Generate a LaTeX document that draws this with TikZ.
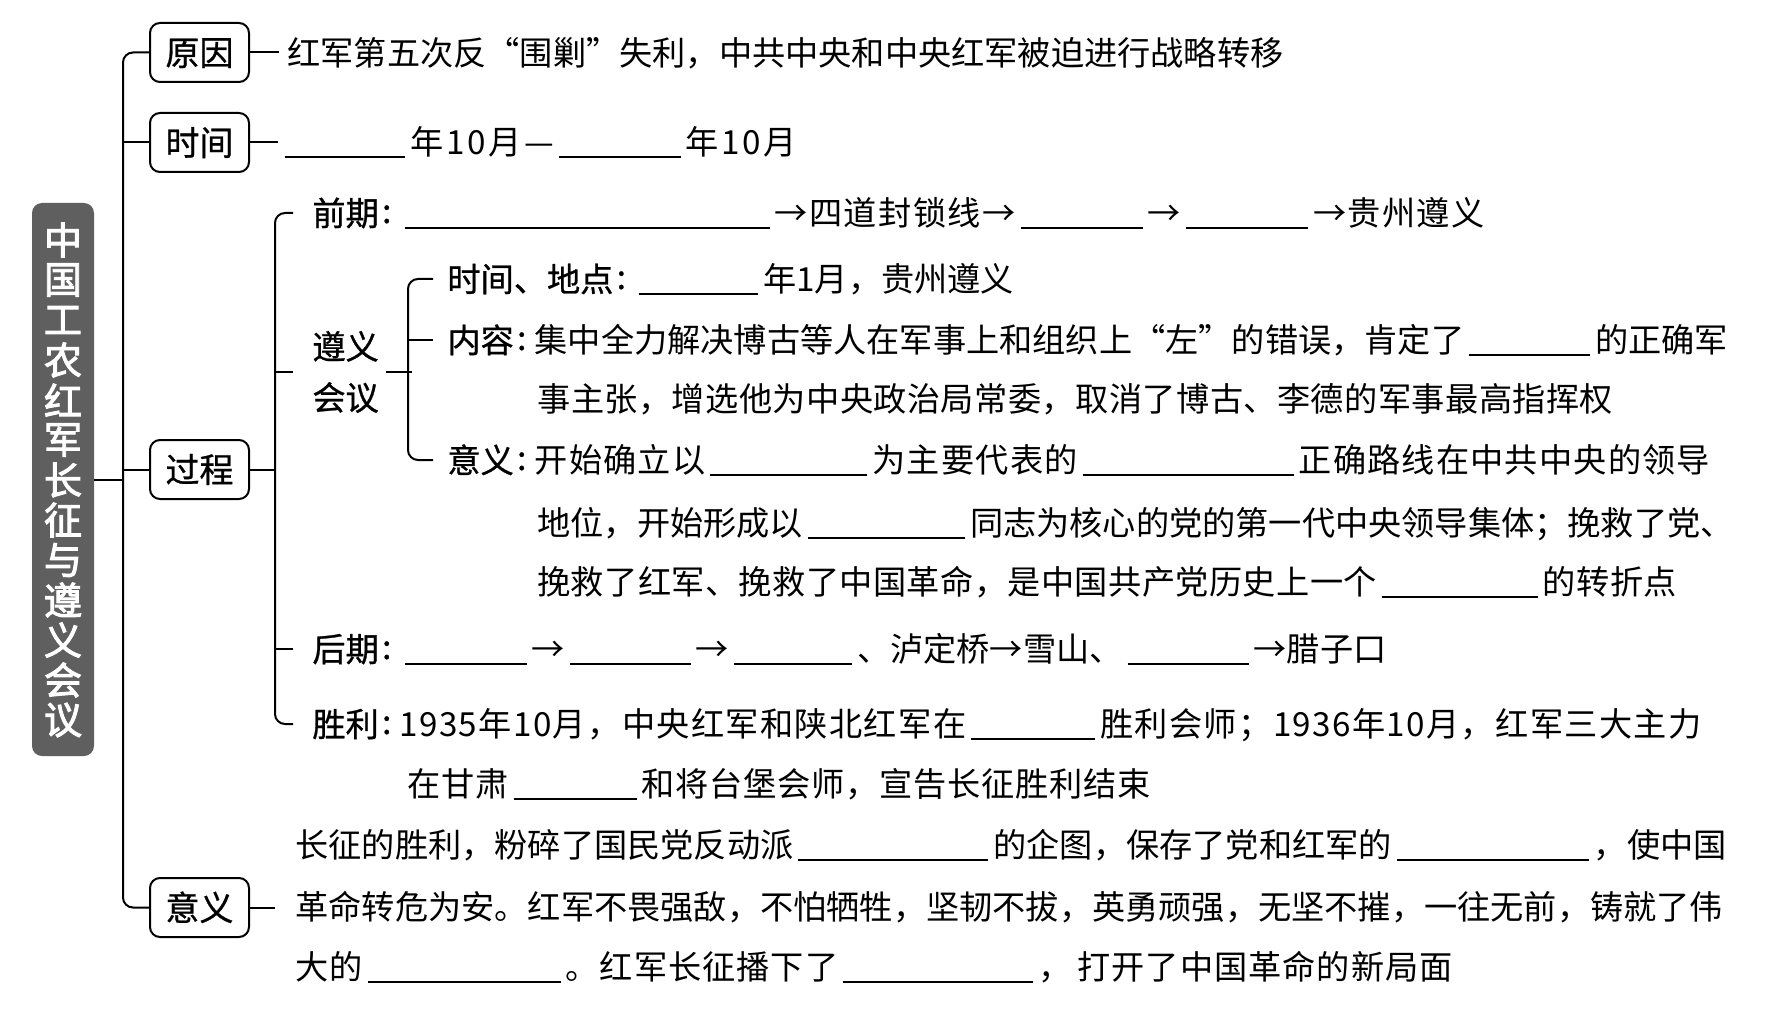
\documentclass[tikz,border=0pt]{standalone}
\usepackage{fontspec}
\setmainfont{Noto Sans CJK SC}
\newfontfamily\lblfont[FakeBold=0.8]{Noto Sans CJK SC}
\newfontfamily\titlefont[FakeBold=2.5]{Noto Sans CJK SC}
\usetikzlibrary{positioning}
\definecolor{titlegray}{HTML}{5F5F5F}
\newdimen\pxu \pxu=0.5pt
\newcommand{\blank}[1]{\kern5\pxu\rule[-0.1em]{#1\pxu}{1pt}\kern5\pxu}
\newcommand{\lc}{\kern0.1em\raisebox{0.08em}{:}\kern0.25em}
\newcommand{\dou}{\char"FF0C\relax}
\newcommand{\fen}{\char"FF1B\relax}

\begin{document}
\begin{tikzpicture}[x=0.5pt,y=-0.5pt,
    txt/.style={anchor=west,inner sep=0pt,text height=14.6pt,text depth=2pt,font=\fontsize{16.6pt}{20pt}\selectfont},
    tracking/.style={font=\fontsize{16.6pt}{20pt}\selectfont\addfontfeature{LetterSpace=#1}},
    stack/.style={anchor=west,inner sep=0pt,align=left,font=\fontsize{16.6pt}{25.5pt}\selectfont\lblfont},
    keybox/.style={draw,line width=1pt,rounded corners=5pt,minimum width=49.5pt,minimum height=29.5pt,inner sep=0pt,text height=14.9pt,text depth=2pt,font=\fontsize{17pt}{20pt}\selectfont\lblfont},
    titlebox/.style={fill=titlegray,rounded corners=5pt,minimum width=31pt,minimum height=276.5pt,inner sep=0pt},
    titlechar/.style={text=white,inner sep=0pt,font=\fontsize{19pt}{20pt}\selectfont\titlefont},
    link/.style={line width=1pt}]
    \useasboundingbox (0,0) rectangle (1767,1027);
    \fill[white] (0,0) rectangle (1767,1027);

    \node[titlebox] (title) at (63,479.5) {};
    \foreach \c [count=\i] in {中,国,工,农,红,军,长,征,与,遵,义,会,议}
    {
        \node[titlechar] (t\i) at (63,200+40*\i) {\c};
    }

    \node[keybox] (yuanyin) at (199.5,52.5) {原因};
    \node[keybox] (shijian) at (199.5,142.5) {时间};
    \node[keybox] (guocheng) at (199.5,469.5) {过程};
    \node[keybox] (yiyi) at (199.5,907.5) {意义};

    \draw[link,rounded corners=5pt] (yuanyin.west) -- ++(-26,0) |- (yiyi.west);
    \draw[link] (shijian.west) -- ++(-26,0);
    \draw[link] (guocheng.west) -- ++(-26,0);
    \draw[link] (title.east) -- ++(30,0);

    \node[txt] (yuanyinTxt) at (287,53) {红军第五次反“围剿”失利\dou 中共中央和中央红军被迫进行战略转移};
    \draw[link,shorten >=4pt] (yuanyin.east) -- (yuanyin.east -| yuanyinTxt.west);
    \node[txt,tracking=8] (shijianTxt) at (280,142) {\blank{120}年10月—\blank{122}年10月};
    \draw[link,shorten >=1pt] (shijian.east) -- (shijian.east -| shijianTxt.west);

    \node[txt,tracking=4.4] (qianqi) at (312,213) {{\lblfont 前期\lc}\blank{365}→四道封锁线→\blank{122}→\blank{122}→贵州遵义};
    \node[stack] (zunyi) at (312,372) {遵义\\会议};
    \node[txt] (houqi) at (312,649) {{\lblfont 后期\lc}\blank{122}→\blank{121}→\blank{118}、泸定桥→雪山、\blank{121}→腊子口};
    \node[txt,tracking=4.1] (shengli) at (312,724) {{\lblfont 胜利\lc}1935年10月\dou 中央红军和陕北红军在\blank{124}胜利会师\fen 1936年10月\dou 红军三大主力};
    \node[txt,tracking=2.3] (shengli2) at (407,784) {在甘肃\blank{123}和将台堡会师\dou 宣告长征胜利结束};

    \draw[link] (guocheng.east) -- ++(26,0);
    \draw[link,rounded corners=5pt,shorten <=9.5pt,shorten >=9.5pt] (qianqi.west) -- ++(-37,0) |- (shengli.west);
    \draw[link,shorten <=9.5pt] (zunyi.west) -- ++(-37,0);
    \draw[link,shorten <=9.5pt] (houqi.west) -- ++(-37,0);

    \node[txt] (didian) at (447,279) {{\lblfont 时间、地点\lc}\blank{119}年1月\dou 贵州遵义};
    \node[txt] (neirong) at (447,340) {{\lblfont 内容\lc}集中全力解决博古等人在军事上和组织上“左”的错误\dou 肯定了\blank{121}的正确军};
    \node[txt,tracking=1.3] (neirong2) at (537,399) {事主张\dou 增选他为中央政治局常委\dou 取消了博古、李德的军事最高指挥权};
    \node[txt,tracking=3.6] (zyyiyi) at (447,460) {{\lblfont 意义\lc}开始确立以\blank{157}为主要代表的\blank{211}正确路线在中共中央的领导};
    \node[txt] (zyyiyi2) at (537,523) {地位\dou 开始形成以\blank{157}同志为核心的党的第一代中央领导集体\fen 挽救了党、};
    \node[txt,tracking=1.2] (zyyiyi3) at (537,582) {挽救了红军、挽救了中国革命\dou 是中国共产党历史上一个\blank{156}的转折点};

    \draw[link,shorten <=3.5pt] (zunyi.east) -- ++(33,0);
    \draw[link,rounded corners=5pt,shorten <=7pt,shorten >=7pt] (didian.west) -- ++(-39,0) |- (zyyiyi.west);
    \draw[link,shorten <=7pt] (neirong.west) -- ++(-39,0);

    \node[txt] (yiyiTxt1) at (295,845) {长征的胜利\dou 粉碎了国民党反动派\blank{190}的企图\dou 保存了党和红军的\blank{192}\dou 使中国};
    \node[txt] (yiyiTxt2) at (295,907) {革命转危为安。红军不畏强敌\dou 不怕牺牲\dou 坚韧不拔\dou 英勇顽强\dou 无坚不摧\dou 一往无前\dou 铸就了伟};
    \node[txt,tracking=3] (yiyiTxt3) at (295,967) {大的\blank{193}。红军长征播下了\blank{190}\dou\kern3pt 打开了中国革命的新局面};
    \draw[link,shorten >=10pt] (yiyi.east) -- (yiyi.east -| yiyiTxt2.west);
\end{tikzpicture}
\end{document}
